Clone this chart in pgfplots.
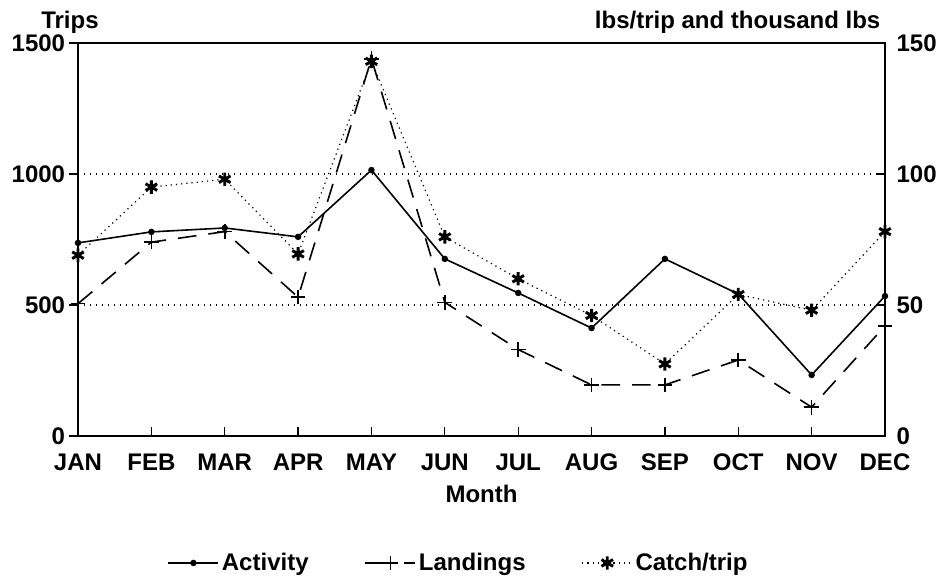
\documentclass[border=0pt]{standalone}
\usepackage{fontspec}
\setmainfont{Liberation Sans}
\usepackage{pgfplots}
\pgfplotsset{compat=1.18}

\newcommand{\txt}{\bfseries\fontsize{18}{21}\selectfont}

% 1 px of the reference = 0.75pt
\pgfplotsset{
  basefig/.style={
    scale only axis, width=605.25pt, height=294.75pt,
    at={(58.5pt,-327pt)}, anchor=south west,
    xmin=0, xmax=11, clip=false,
    /pgf/number format/assume math mode=true,
    /pgf/number format/1000 sep={},
    ticklabel style={font=\txt},
    axis line style={line width=1.2pt},
    major tick style={line width=1pt, black},
    major tick length=7pt,
  },
  activity/.style={black, line width=1.2pt, mark=*, mark size=1.8pt},
  landings/.style={black, line width=1.2pt, dash pattern=on 14pt off 9pt,
    mark=+, mark size=5.5pt, mark options={solid, line width=1.2pt}},
  catch/.style={black, line width=0.9pt, dash pattern=on 0.9pt off 3pt,
    mark=asterisk, mark size=5pt, mark options={solid, line width=2.2pt}},
}

\begin{document}
\begin{tikzpicture}
\useasboundingbox (0pt,0pt) rectangle (707.25pt,-435pt);

% left axis: trips
\begin{axis}[basefig,
  ymin=0, ymax=1500, ytick={0,500,1000,1500},
  ytick pos=left, ytick align=outside,
  yticklabel style={inner sep=0pt, anchor=east, xshift=-2.5pt},
  xtick={0,...,11},
  xticklabels={JAN,FEB,MAR,APR,MAY,JUN,JUL,AUG,SEP,OCT,NOV,DEC},
  xtick pos=bottom, xtick align=inside,
  xticklabel style={inner sep=0pt, anchor=base, yshift=-26pt},
  ymajorgrids, grid style={black, line width=0.8pt, dash pattern=on 1pt off 3.5pt},
  xlabel={Month},
  xlabel style={font=\txt, at={(axis description cs:0.5,-0.17)}, anchor=base},
]
\addplot[activity] coordinates {
  (0,737) (1,779) (2,794) (3,760) (4,1015) (5,676)
  (6,546) (7,412) (8,676) (9,542) (10,233) (11,534)
};
\node[font=\txt, anchor=base] at (rel axis cs:-0.01,1.038) {Trips};
\node[font=\txt, anchor=base east] at (rel axis cs:1,1.038) {lbs/trip and thousand lbs};
\end{axis}

% right axis: landings and catch per trip
\begin{axis}[basefig,
  ymin=0, ymax=150, ytick={0,50,100,150},
  axis y line*=right, axis x line=none, ytick align=inside,
  yticklabel style={inner sep=0pt, anchor=west, xshift=8.5pt},
  legend columns=3,
  legend style={at={(0.472,-0.323)}, anchor=center, draw=none, font=\txt,
    /tikz/every even column/.append style={column sep=40pt}},
  legend image code/.code={\draw[mark repeat=2,mark phase=2,#1]
    plot coordinates {(0cm,0cm)(0.66cm,0cm)(1.32cm,0cm)};},
]
\addlegendimage{activity}
\addlegendentry{Activity}
\addlegendimage{landings, dash pattern=on 22pt off 7pt on 10pt off 5pt}
\addlegendentry{Landings}
\addplot[landings, forget plot] coordinates {
  (0,50.5) (1,74) (2,78) (3,53) (4,144) (5,51)
  (6,33) (7,19.5) (8,19.5) (9,29) (10,11) (11,42)
};
\addplot[catch] coordinates {
  (0,69) (1,95) (2,98) (3,69.5) (4,143) (5,76)
  (6,60) (7,46) (8,27.5) (9,54) (10,48) (11,78)
};
\addlegendentry{Catch/trip}
\end{axis}
\end{tikzpicture}
\end{document}
